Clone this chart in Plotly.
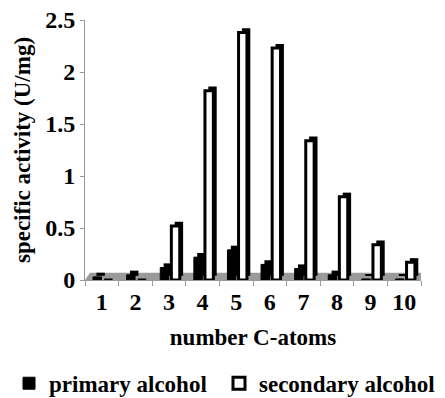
import plotly.graph_objects as go

categories = ["1", "2", "3", "4", "5", "6", "7", "8", "9", "10"]
primary = [0.03, 0.05, 0.12, 0.22, 0.29, 0.15, 0.11, 0.05, 0.01, 0.01]
secondary = [0, 0, 0.52, 1.82, 2.38, 2.23, 1.34, 0.80, 0.34, 0.17]
series_names = ["primary alcohol", "secondary alcohol"]
y_ticks = [0, 0.5, 1, 1.5, 2, 2.5]
y_tick_text = ["0", "0.5", "1", "1.5", "2", "2.5"]
x_title = "number C-atoms"
y_title = "specific activity (U/mg)"

FONT = "Liberation Serif"
DX, DY = 0.1, 0.04
W = 0.25
OFF_P, OFF_S = -0.26, 0.07

fig = go.Figure()
# depth (3D side faces)
for vals, off in ((primary, OFF_P), (secondary, OFF_S)):
    fig.add_trace(go.Bar(x=categories, y=vals, base=DY, offset=off + DX, width=W,
                         marker=dict(color="black", line=dict(width=0)),
                         showlegend=False, hoverinfo="skip"))
fig.add_trace(go.Bar(x=categories, y=primary, name=series_names[0], offset=OFF_P, width=W,
                     marker=dict(color="black", line=dict(color="black", width=1)),
                     legend="legend"))
fig.add_trace(go.Bar(x=categories, y=secondary, name=series_names[1], offset=OFF_S, width=W,
                     marker=dict(color="white", line=dict(color="black", width=3)),
                     legend="legend2"))

fig.add_shape(type="path", xref="x", yref="y",
              path="M -0.5,0 L 9.5,0 L 9.65,0.07 L -0.35,0.07 Z",
              fillcolor="#9a9a9a", line=dict(width=0), layer="below")

leg_common = dict(orientation="h", xref="container", yref="container",
                  y=0.037, yanchor="middle", xanchor="left",
                  font=dict(family=FONT, size=23, color="black", weight="bold"),
                  itemwidth=30, bgcolor="rgba(0,0,0,0)", borderwidth=0)

fig.update_layout(
    width=445, height=398,
    margin=dict(l=85, r=24, t=20, b=118, autoexpand=False),
    plot_bgcolor="white", paper_bgcolor="white",
    barmode="overlay",
    font=dict(family=FONT, size=22, color="black", weight="bold"),
    showlegend=True,
    legend=dict(x=9 / 445, **leg_common),
    legend2=dict(x=219 / 445, **leg_common),
    xaxis=dict(type="category", range=[-0.5, 9.5], showgrid=False, showline=True,
               linecolor="#999999", linewidth=1, ticks="outside", tickson="boundaries",
               ticklen=5, tickcolor="#999999", automargin=False,
               tickfont=dict(family=FONT, size=24, color="black", weight="bold"),
               title=dict(text=x_title, standoff=15,
                          font=dict(family=FONT, size=23, color="black", weight="bold"))),
    yaxis=dict(range=[0, 2.5], tickvals=y_ticks, ticktext=y_tick_text, showgrid=False,
               showline=True, linecolor="#999999", linewidth=1, ticks="outside", ticklen=4,
               tickcolor="#999999", zeroline=False, automargin=False,
               tickfont=dict(family=FONT, size=24, color="black", weight="bold"),
               title=dict(text=y_title, standoff=8,
                          font=dict(family=FONT, size=23, color="black", weight="bold"))),
)

fig.write_html("out.html", config={"displayModeBar": False},
               post_script="document.body.style.margin='0';")
